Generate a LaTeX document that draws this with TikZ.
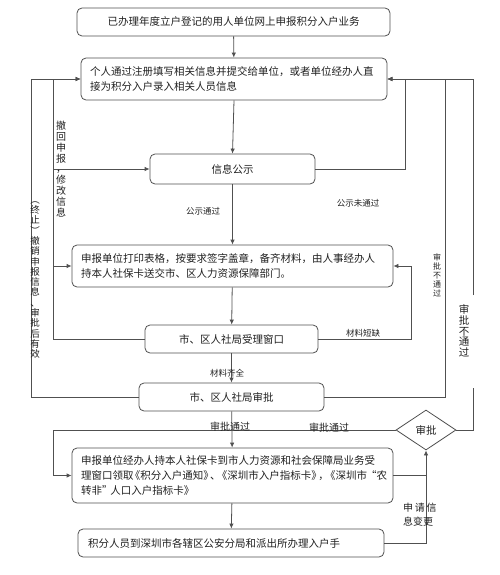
\documentclass[tikz,border=0pt]{standalone}
\usepackage{fontspec}
\setmainfont{Noto Sans CJK SC}
\usetikzlibrary{arrows.meta,shapes.geometric}
\definecolor{ln}{HTML}{505050}
\definecolor{tx}{HTML}{202020}
\newcommand{\pk}{\kern-0.35em}
\begin{document}
\begin{tikzpicture}[x=1pt,y=-1pt,
  box/.style={draw=ln,line width=0.8pt,rounded corners=5pt,text=tx,inner sep=0pt,
    font=\fontsize{10.5}{15}\selectfont},
  lbox/.style={box,align=left},
  line/.style={draw=ln,line width=0.8pt},
  arr/.style={line,-{Latex[length=5pt,width=4.5pt]}},
  lab/.style={text=tx,inner sep=0pt,font=\fontsize{8.5}{10}\selectfont},
  vlab/.style={text=tx,inner sep=0pt,align=center,text width=1.2em}
]
\useasboundingbox (0,0) rectangle (500,575);

\node[box,minimum width=313pt,minimum height=28pt] (b1) at (233.5,22)
  {已办理年度立户登记的用人单位网上申报积分入户业务};
\node[lbox,minimum width=306pt,minimum height=42pt,text width=288pt] (b2) at (234,79)
  {个人通过注册填写相关信息并提交给单位，或者单位经办人直\\接为积分入户录入相关人员信息};
\node[box,minimum width=165pt,minimum height=30pt] (b3) at (232.5,169) {信息公示};
\node[lbox,minimum width=321pt,minimum height=42pt,text width=303pt] (b4) at (232.5,266)
  {申报单位打印表格，按要求签字盖章，备齐材料，由人事经办人\\持本人社保卡送交市、区人力资源保障部门。};
\node[box,minimum width=173pt,minimum height=28pt] (b5) at (231.5,339) {市、区人社局受理窗口};
\node[box,minimum width=185pt,minimum height=28pt] (b6) at (231.5,397) {市、区人社局审批};
\node[draw=ln,line width=0.8pt,diamond,aspect=1.5,minimum width=60pt,minimum height=40pt,inner sep=0pt,
  text=tx,font=\fontsize{10.5}{12}\selectfont] (d) at (426,430) {审批};
\node[lbox,minimum width=321pt,minimum height=55pt,text width=303pt] (b7) at (232.5,475.5)
  {申报单位经办人持本人社保卡到市人力资源和社会保障局业务受\\理窗口领取\pk《积分入户通知》\pk、\pk《深圳市入户指标卡》\pk，\pk《深圳市\kern-0.1em“农\\转非”\kern-0.2em人口入户指标卡》};
\node[lbox,minimum width=306pt,minimum height=28pt,text width=286pt] (b8) at (231,543)
  {积分人员到深圳市各辖区公安分局和派出所办理入户手};

\coordinate (cLL) at (31,0);
\coordinate (cL) at (53,0);
\coordinate (cR1) at (405,0);
\coordinate (cR2) at (411,0);
\coordinate (cR3) at (445,0);
\coordinate (gapbot) at (473,388);
\coordinate (gaptop) at (473,295);

% main flow
\draw[arr] (b1) -- (b2);
\draw[arr] (b2.south) -- (b3.north);
\draw[arr] (b3) -- (b4);
\draw[arr] (b4) -- (b5);
\draw[arr] (b5) -- (b6);
\draw[arr] (b6) -- (b7);
\draw[arr] (b7) -- (b8);

% left loops
\draw[arr] (b5.west) -- (b5.west -| cL) |- (b2.west);
\draw[arr] (b3.west -| cL) -- (b3.west);
\draw[arr] (b4.west -| cL) -- (b4.west);
\draw[arr] (b6.west) -- (b6.west -| cLL) |- (b2.west);

% right loops
\draw[arr] (b3.east) -- (b3.east -| cR1) |- (b2.east);
\draw[arr] (b5.east) -- (b5.east -| cR2) |- (b4.east);
\draw[arr] (b6.east) -- (b6.east -| cR3) |- (b2.east);
\draw[line] (d.east) -| (gapbot);
\draw[arr] (gaptop) |- (b2.east);

% diamond
\draw[arr] (d.west) -- (d.west -| cL) |- (b7.west);
\draw[line] (b7.east) -- (b7.east -| d.south);
\draw[arr] (b8.east) -| (d.south);

% labels
\node[lab] at (203,211) {公示通过};
\node[lab] at (358,203) {公示未通过};
\node[lab] at (363,333) {材料短缺};
\node[lab] at (227,373) {材料齐全};
\node[lab,font=\fontsize{10}{12}\selectfont] at (230,427) {审批通过};
\node[lab,font=\fontsize{10}{12}\selectfont] at (329,428) {审批通过};
\node[vlab,font=\fontsize{8}{9}\selectfont] at (437,275) {审\\批\\不\\通\\过};
\node[vlab,font=\fontsize{10.5}{10.8}\selectfont] at (464,331) {审\\批\\不\\通\\过};
\node[vlab,font=\fontsize{10}{10.9}\selectfont] at (61,169) {撤\\回\\申\\报\\，\\修\\改\\信\\息};
\node[vlab,font=\fontsize{9.5}{10.3}\selectfont] at (35,280) {︵\\终\\止\\︶\\撤\\销\\申\\报\\信\\息\\、\\审\\批\\后\\有\\效};
\node[lab,font=\fontsize{10}{14}\selectfont,align=left,anchor=north west] at (403,503) {申\,请\,信\\息变更};
\end{tikzpicture}
\end{document}
